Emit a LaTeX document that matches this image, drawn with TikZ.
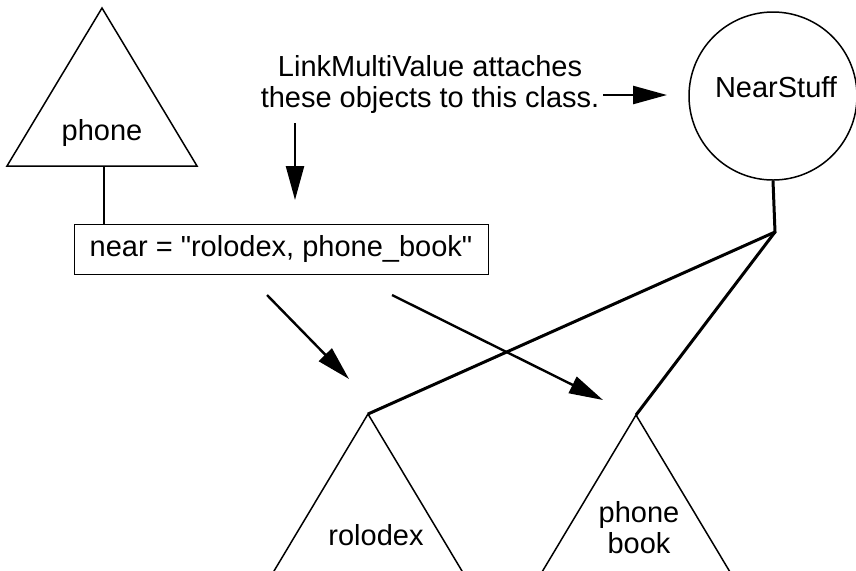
\documentclass[tikz,border=0pt]{standalone}
\usepackage{fontspec}
\setmainfont{Liberation Sans}
\usetikzlibrary{arrows.meta,%
                positioning}

\begin{document}
\begin{tikzpicture}[x=0.5pt, y=-0.5pt,
                    every node/.style={font=\fontsize{14.5}{15.5}\selectfont},
                    tri line/.style={line width=0.75pt, line join=miter},
                    link line/.style={line width=1.5pt},
                    ptr/.style={line width=1.2pt, -{Triangle[length=17pt,width=9pt]}}]
  \useasboundingbox (0,0) rectangle (856,570);

  % object trees
  \coordinate (phonetop) at (102,8);
  \coordinate (rolotop) at (368,414);
  \coordinate (booktop) at (636,415);
  \draw[tri line] (phonetop) -- ++(-95,158) -- ++(190,0) -- cycle;
  \draw[tri line] (rolotop) -- ++(-97,162) -- ++(194,0) -- cycle;
  \draw[tri line] (booktop) -- ++(-97,162) -- ++(194,0) -- cycle;
  \coordinate (phonebase) at (104,166);

  \node[anchor=base] (phonelbl) at (102,140) {phone};
  \node[anchor=base] (rololbl) at (376,545) {rolodex};
  \node[anchor=base, align=center] (booklbl) at (639,553) {phone\\book};

  % class
  \node[draw, circle, line width=0.75pt, minimum size=84pt, inner sep=0pt] (nearstuff) at (773,96) {};
  \node[anchor=base] (nearlbl) at (776,97) {NearStuff};

  % attribute
  \node[draw, line width=0.5pt, minimum width=207pt, minimum height=25pt, inner sep=0pt] (near) at (281,249)
    {near = \textquotedbl rolodex, phone\_book\textquotedbl};

  \node[align=center] (note) at (430,84)
    {LinkMultiValue attaches\\these objects to this class.};

  % links
  \coordinate (fork) at (775,232);
  \draw[tri line] (phonebase) -- (phonebase |- near.north);
  \draw[link line] (nearstuff.south) -- (fork) -- (rolotop);
  \draw[link line] (fork) -- (booktop);

  % pointers
  \coordinate (a1) at (295,123);
  \coordinate (a2) at (295,200);
  \coordinate (b1) at (603,95);
  \coordinate (b2) at (667,95);
  \coordinate (c1) at (267,295);
  \coordinate (c2) at (349,379);
  \coordinate (d1) at (392,295);
  \coordinate (d2) at (603,400);
  \draw[ptr] (a1) -- (a2);
  \draw[ptr] (b1) -- (b2);
  \draw[ptr] (c1) -- (c2);
  \draw[ptr] (d1) -- (d2);
\end{tikzpicture}
\end{document}
